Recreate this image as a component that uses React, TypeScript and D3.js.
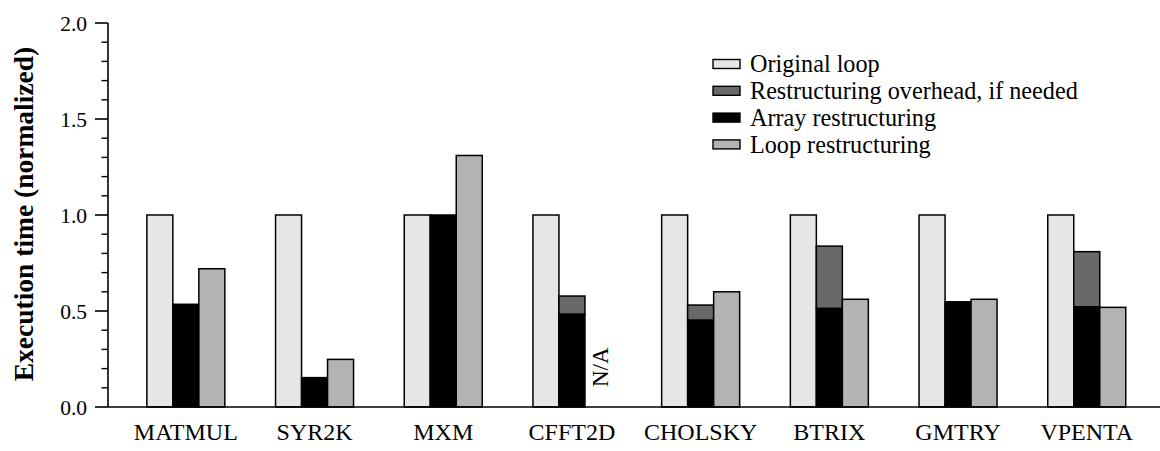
import React, { useEffect, useRef } from "react"
import * as d3 from "d3"

const categories = ["MATMUL", "SYR2K", "MXM", "CFFT2D", "CHOLSKY", "BTRIX", "GMTRY", "VPENTA"]
const originalLoop = [1.0, 1.0, 1.0, 1.0, 1.0, 1.0, 1.0, 1.0]
const arrayRestructuring = [0.535, 0.153, 1.0, 0.484, 0.453, 0.514, 0.548, 0.522]
const restructuringOverhead = [0, 0, 0, 0.094, 0.078, 0.324, 0, 0.287]
const loopRestructuring: (number | null)[] = [0.72, 0.248, 1.31, null, 0.6, 0.561, 0.561, 0.519]
const yTicks = [0, 0.5, 1.0, 1.5, 2.0]

const legendItems = [
    { label: "Original loop", color: "#e6e6e6" },
    { label: "Restructuring overhead, if needed", color: "#696969" },
    { label: "Array restructuring", color: "#000000" },
    { label: "Loop restructuring", color: "#b3b3b3" },
]

const FONT = "'Liberation Serif', 'Times New Roman', serif"

function Chart() {
    const svgRef = useRef<SVGSVGElement | null>(null)

    useEffect(() => {
        const width = 1160
        const height = 451
        const axisX = 108
        const yTop = 23
        const yBottom = 407

        const svg = d3.select(svgRef.current)
        svg.selectAll("*").remove()
        svg.attr("width", width).attr("height", height)

        const y = d3.scaleLinear().domain([0, 2]).range([yBottom, yTop])

        const x = d3
            .scaleBand()
            .domain(categories)
            .range([121.5, 121.5 + 8 * 128.7])
            .padding(0)

        const sub = d3
            .scaleBand()
            .domain(["orig", "array", "loop"])
            .range([0, 78])
            .padding(0)

        const groupX = (c: string) => (x(c) ?? 0) + x.bandwidth() / 2 - 39

        const g = svg.append("g")

        // bars
        categories.forEach((c, i) => {
            const gx = groupX(c)
            const bw = sub.bandwidth()
            const addBar = (key: string, v0: number, v1: number, fill: string) => {
                g.append("rect")
                    .attr("x", gx + (sub(key) ?? 0))
                    .attr("y", y(v1))
                    .attr("width", bw)
                    .attr("height", y(v0) - y(v1))
                    .attr("fill", fill)
                    .attr("stroke", "#000")
                    .attr("stroke-width", 1.5)
            }
            addBar("orig", 0, originalLoop[i], legendItems[0].color)
            addBar("array", 0, arrayRestructuring[i], legendItems[2].color)
            if (restructuringOverhead[i] > 0) {
                addBar(
                    "array",
                    arrayRestructuring[i],
                    arrayRestructuring[i] + restructuringOverhead[i],
                    legendItems[1].color
                )
            }
            const lv = loopRestructuring[i]
            if (lv !== null) {
                addBar("loop", 0, lv, legendItems[3].color)
            } else {
                const cx = gx + (sub("loop") ?? 0) + bw / 2
                g.append("text")
                    .attr("transform", `translate(${cx + 10},${y(0) - 20}) rotate(-90)`)
                    .attr("font-family", FONT)
                    .attr("font-size", 23)
                    .attr("fill", "#000")
                    .text("N/A")
            }
        })

        // x axis line
        g.append("line")
            .attr("x1", axisX)
            .attr("x2", width)
            .attr("y1", yBottom)
            .attr("y2", yBottom)
            .attr("stroke", "#000")
            .attr("stroke-width", 1.6)

        // y axis
        g.append("line")
            .attr("x1", axisX)
            .attr("x2", axisX)
            .attr("y1", yTop)
            .attr("y2", yBottom)
            .attr("stroke", "#000")
            .attr("stroke-width", 1.6)

        const minor = d3.range(0, 21).map((d) => d / 10)
        g.selectAll(".minor")
            .data(minor.filter((d) => Math.round(d * 10) % 5 !== 0))
            .enter()
            .append("line")
            .attr("x1", axisX - 6.5)
            .attr("x2", axisX)
            .attr("y1", (d) => y(d))
            .attr("y2", (d) => y(d))
            .attr("stroke", "#000")
            .attr("stroke-width", 1.4)

        g.selectAll(".major")
            .data(yTicks)
            .enter()
            .append("line")
            .attr("x1", axisX - 13)
            .attr("x2", axisX)
            .attr("y1", (d) => y(d))
            .attr("y2", (d) => y(d))
            .attr("stroke", "#000")
            .attr("stroke-width", 1.6)

        g.selectAll(".ylab")
            .data(yTicks)
            .enter()
            .append("text")
            .attr("x", axisX - 21)
            .attr("y", (d) => y(d))
            .attr("dy", "0.35em")
            .attr("text-anchor", "end")
            .attr("font-family", FONT)
            .attr("font-size", 21.5)
            .text((d) => d3.format(".1f")(d))

        g.append("text")
            .attr("transform", `rotate(-90)`)
            .attr("x", -(yTop + yBottom) / 2 + 1)
            .attr("y", 33)
            .attr("text-anchor", "middle")
            .attr("font-family", FONT)
            .attr("font-weight", "bold")
            .attr("font-size", 27.5)
            .text("Execution time (normalized)")

        // category labels
        g.selectAll(".xlab")
            .data(categories)
            .enter()
            .append("text")
            .attr("x", (d) => (x(d) ?? 0) + x.bandwidth() / 2)
            .attr("y", 440)
            .attr("text-anchor", "middle")
            .attr("font-family", FONT)
            .attr("font-size", 24)
            .text((d) => d)

        // legend
        const legend = g.append("g").attr("transform", "translate(713,64)")
        legendItems.forEach((item, i) => {
            const row = legend.append("g").attr("transform", `translate(0,${i * 26.8})`)
            row.append("rect")
                .attr("x", 0)
                .attr("y", -4.5)
                .attr("width", 27)
                .attr("height", 9)
                .attr("fill", item.color)
                .attr("stroke", "#000")
                .attr("stroke-width", 1.4)
            row.append("text")
                .attr("x", 37)
                .attr("y", 0)
                .attr("dy", "0.35em")
                .attr("font-family", FONT)
                .attr("font-size", 24.2)
                .text(item.label)
        })
    }, [])

    return (
        <svg
            ref={svgRef}
            style={{ position: "absolute", left: 0, top: 0, display: "block", background: "#fff" }}
        />
    )
}

export default function App() {
    return <Chart />
}
